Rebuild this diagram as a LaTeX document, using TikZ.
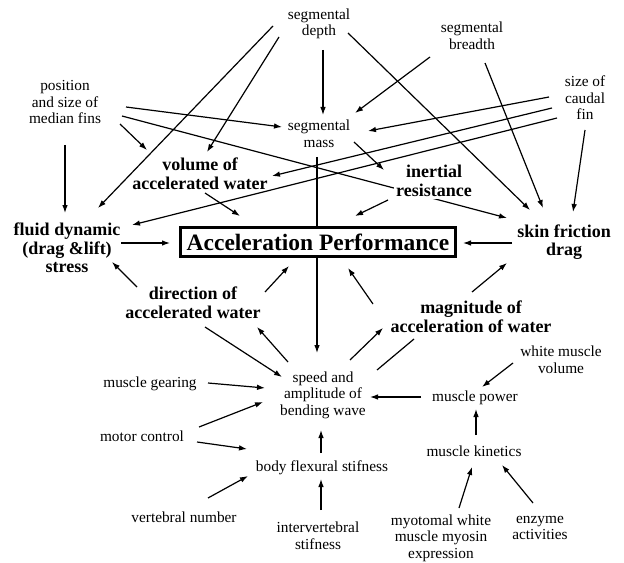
\documentclass[tikz,border=0pt]{standalone}
\usepackage{fontspec}
\setmainfont{LiberationSerif}[Extension=.ttf, UprightFont=*-Regular, BoldFont=*-Bold, ItalicFont=*-Italic, BoldItalicFont=*-BoldItalic]
\usetikzlibrary{arrows.meta,calc}
\begin{document}
\begin{tikzpicture}[x=0.75pt,y=-0.75pt,
  reg/.style={font=\rmfamily\fontsize{11.5}{12.4}\selectfont, align=center, inner sep=1pt},
  bld/.style={font=\rmfamily\fontsize{13.5}{13.9}\selectfont\bfseries, align=center, inner sep=2pt},
  ttl/.style={draw, line width=2pt, fill=white, font=\rmfamily\fontsize{17.6}{18}\selectfont\bfseries, minimum width=206pt, minimum height=22pt, inner sep=0pt},
  arr/.style={-{Latex[length=6pt,width=4.2pt]}, line width=0.9pt},
  ln/.style={line width=0.9pt}]
\useasboundingbox (0,0) rectangle (624,563);
% nodes
\node[reg] (D) at (319,24) {segmental\\depth};
\node[reg] (B) at (472,36) {segmental\\breadth};
\node[reg] (C) at (585,98) {size of\\caudal\\fin};
\node[reg] (P) at (65,102) {position\\and size of\\median fins};
\node[reg] (M) at (319,134) {segmental\\mass};
\node[bld] (V) at (200,174) {volume of\\accelerated water};
\node[bld] (F) at (67,248) {fluid dynamic\\(drag \&lift)\\stress};
\node[bld] (S) at (564,242) {skin friction\\drag};
\node[bld] (Dir) at (193,303) {direction of\\accelerated water};
\node[bld] (Mag) at (471,317) {magnitude of\\acceleration of water};
\node[reg] (Sp) at (323,395) {speed and\\amplitude of\\bending wave};
\node[reg] (G) at (150,384) {muscle gearing};
\node[reg] (Mo) at (142,436) {motor control};
\node[reg] (Bo) at (322,468) {body flexural stifness};
\node[reg] (Ve) at (184,517) {vertebral number};
\node[reg] (In) at (318,536) {intervertebral\\stifness};
\node[reg] (Pw) at (475,398) {muscle power};
\node[reg] (W) at (561,360) {white muscle\\volume};
\node[reg] (K) at (474,451) {muscle kinetics};
\node[reg] (My) at (441,538) {myotomal white\\muscle myosin\\expression};
\node[reg] (E) at (540,528) {enzyme\\activities};
% lines passing behind nodes
\draw[arr] ($(M)+(-2,23)$) -- ($(Sp)+(-6,-42)$);
\draw[arr] ($(P)+(57,14)$) -- ($(S)+(-57,-24)$);
\node[bld, fill=white] (I) at (434,181) {inertial\\resistance};
\node[ttl] (A) at (318,242) {Acceleration Performance};
% connectors
\draw[arr] ($(D)+(-46,2)$) -- ($(F)+(31,-40)$);
\draw[arr] ($(D)+(-40,13)$) -- ($(V)+(7,-22)$);
\draw[arr] ($(P)+(61,5)$) -- ($(M)+(-37,-7)$);
\draw[arr] ($(P)+(55,22)$) -- ($(V)+(-53,-24)$);
\draw[arr] ($(P)+(0,43)$) -- ($(F)+(-2,-35)$);
\draw[arr] ($(V)+(5,19)$) -- ($(A)+(-78,-26)$);
\draw[arr] ($(F)+(54,-5)$) -- ($(A)+(-148,1)$);
\draw[arr] ($(Dir)+(-56,-16)$) -- ($(F)+(45,14)$);
\draw[arr] ($(C)+(-36,-1)$) -- ($(M)+(49,-3)$);
\draw[arr] ($(C)+(-33,10)$) -- ($(V)+(72,2)$);
\draw[arr] ($(C)+(-28,20)$) -- ($(F)+(65,-23)$);
\draw[arr] ($(C)+(0,32)$) -- ($(S)+(9,-30)$);
\draw[arr] ($(B)+(-42,21)$) -- ($(M)+(36,-21)$);
\draw[arr] ($(B)+(13,27)$) -- ($(S)+(-21,-34)$);
\draw[arr] ($(D)+(29,9)$) -- ($(S)+(-34,-32)$);
\draw[arr] ($(D)+(4,26)$) -- ($(M)+(4,-19)$);
\draw[arr] ($(M)+(35,8)$) -- ($(I)+(-50,-11)$);
\draw[arr] ($(I)+(-46,19)$) -- ($(A)+(37,-26)$);
\draw[arr] ($(S)+(-52,1)$) -- ($(A)+(145,1)$);
\draw[arr] ($(Dir)+(72,-11)$) -- ($(A)+(-29,24)$);
\draw[arr] ($(Mag)+(-98,-13)$) -- ($(A)+(30,26)$);
\draw[arr] ($(Sp)+(-35,-33)$) -- ($(Dir)+(64,24)$);
\draw[arr] ($(Dir)+(12,24)$) -- ($(Sp)+(-41,-18)$);
\draw[arr] ($(Sp)+(27,-35)$) -- ($(Mag)+(-88,11)$);
\draw[ln] ($(Mag)+(-57,22)$) -- ($(Sp)+(54,-25)$);
\draw[arr] ($(Mag)+(1,-25)$) -- ($(S)+(-57,21)$);
\draw[arr] ($(G)+(58,-1)$) -- ($(Sp)+(-58,-7)$);
\draw[arr] ($(Mo)+(57,-9)$) -- ($(Sp)+(-60,7)$);
\draw[arr] ($(Mo)+(55,6)$) -- ($(Bo)+(-75,-19)$);
\draw[arr] ($(Ve)+(24,-19)$) -- ($(Bo)+(-74,8)$);
\draw[arr] ($(Bo)+(-1,-15)$) -- ($(Sp)+(-2,35)$);
\draw[arr] ($(In)+(3,-26)$) -- ($(Bo)+(-1,11)$);
\draw[arr] ($(Pw)+(-54,-1)$) -- ($(Sp)+(47,2)$);
\draw[arr] ($(W)+(-48,3)$) -- ($(Pw)+(7,-11)$);
\draw[arr] ($(K)+(2,-16)$) -- ($(Pw)+(1,11)$);
\draw[arr] ($(My)+(18,-30)$) -- ($(K)+(-2,16)$);
\draw[arr] ($(E)+(-7,-25)$) -- ($(K)+(28,14)$);
\end{tikzpicture}
\end{document}
